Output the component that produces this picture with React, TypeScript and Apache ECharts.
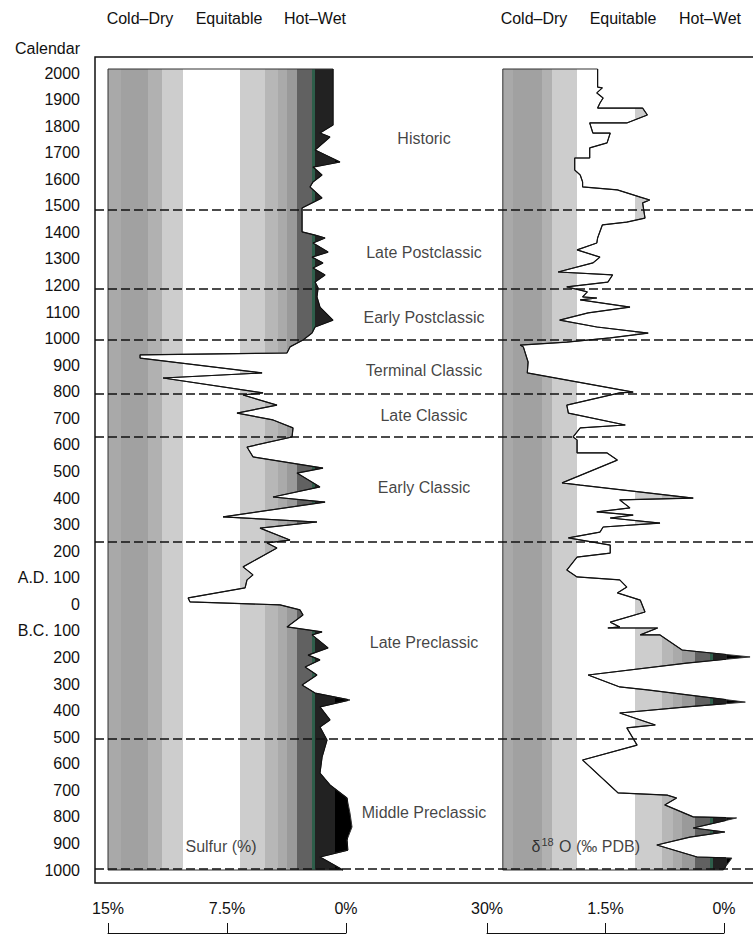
import React, { useEffect, useRef } from "react";
import * as echarts from "echarts";

const FONT = '"Liberation Sans", Arial, Helvetica, sans-serif';
const INK = "#111111";

// Calendar axis (A.D. positive, B.C. negative)
const YEAR_MIN = -1000;
const YEAR_MAX = 2000;
const YEAR_STEP = 100;

// Period boundaries (dashed lines) and period names at their mid-years
const PERIOD_BOUNDARIES = [1485, 1187, 995, 792, 630, 235, -507, -996];
const PERIOD_NAMES = [
  "Historic",
  "Late Postclassic",
  "Early Postclassic",
  "Terminal Classic",
  "Late Classic",
  "Early Classic",
  "Late Preclassic",
  "Middle Preclassic",
];
const PERIOD_LABEL_YEARS = [1755, 1326, 1078, 882, 709, 438, -142, -785];

// Header texts above each panel
const CLIMATE_HEADERS = ["Cold\u2013Dry", "Equitable", "Hot\u2013Wet"];

// Sulfur (%) record: [year, percent]
const SULFUR: [number, number][] = [
  [2015, 0.82], [1804, 0.82], [1793, 1.13], [1774, 1.64], [1759, 1.01], [1710, 1.95],
  [1665, 0.38], [1646, 2.08], [1616, 1.51], [1590, 2.08], [1571, 2.27], [1530, 1.51],
  [1492, 2.77], [1402, 2.77], [1390, 1.95], [1379, 1.32], [1360, 2.08], [1326, 1.13],
  [1307, 2.14], [1285, 1.45], [1266, 2.08], [1240, 1.32], [1213, 1.95], [1191, 1.76],
  [1157, 1.83], [1119, 1.64], [1070, 0.82], [1044, 1.95], [1021, 2.14], [995, 2.71],
  [969, 3.53], [946, 3.72], [939, 12.98], [927, 12.98], [871, 5.29], [852, 11.53],
  [796, 5.23], [788, 6.49], [750, 4.35], [720, 6.87], [694, 4.6], [664, 3.34],
  [630, 3.4], [592, 6.24], [555, 5.86], [513, 1.45], [494, 3.09], [442, 1.64],
  [404, 4.6], [385, 1.32], [329, 7.75], [310, 1.83], [287, 5.42], [242, 3.53],
  [231, 4.98], [212, 4.35], [141, 6.49], [111, 5.86], [92, 6.24], [62, 6.36],
  [24, 9.95], [9, 9.83], [-2, 4.16], [-21, 2.9], [-40, 2.71], [-85, 3.72],
  [-104, 1.51], [-115, 2.14], [-164, 1.13], [-191, 2.39], [-209, 1.64], [-236, 2.58],
  [-266, 1.83], [-304, 2.77], [-334, 1.95], [-360, -0.25], [-386, 1.64], [-435, 1.01],
  [-462, 1.64], [-511, 1.2], [-575, 1.51], [-635, 1.64], [-680, 1.01], [-729, -0.06],
  [-785, -0.25], [-838, -0.38], [-887, -0.06], [-925, -0.13], [-951, 1.64], [-1000, 0.19],
];

// Oxygen isotope record: [year, scale value]
const DELTA18O: [number, number][] = [
  [2015, 1.6], [1947, 1.6], [1944, 1.54], [1925, 1.61], [1906, 1.53], [1887, 1.57],
  [1868, 1.6], [1868, 1.03], [1842, 0.97], [1812, 1.23], [1812, 1.7], [1774, 1.66],
  [1774, 1.44], [1737, 1.48], [1718, 1.7], [1680, 1.7], [1680, 1.89], [1635, 1.89],
  [1616, 1.82], [1590, 1.79], [1571, 1.79], [1560, 1.35], [1533, 1.06], [1522, 0.94],
  [1511, 1.03], [1454, 1.0], [1439, 1.23], [1428, 1.54], [1379, 1.6], [1360, 1.61],
  [1334, 1.86], [1307, 1.57], [1285, 1.66], [1251, 2.1], [1240, 1.41], [1213, 1.47],
  [1195, 1.99], [1183, 1.82], [1176, 1.73], [1157, 1.79], [1153, 1.61], [1146, 1.82],
  [1119, 1.19], [1097, 1.72], [1070, 2.08], [1044, 1.61], [1021, 0.96], [1003, 1.44],
  [987, 1.99], [976, 2.58], [969, 2.54], [912, 2.48], [871, 2.49], [799, 1.15],
  [796, 1.32], [750, 1.99], [720, 1.97], [675, 1.25], [664, 1.82], [630, 1.91],
  [619, 1.86], [570, 1.86], [570, 1.48], [543, 1.35], [457, 2.05], [449, 1.82],
  [400, 0.39], [393, 1.32], [363, 1.19], [348, 1.61], [336, 1.15], [325, 1.44],
  [306, 0.81], [291, 1.53], [272, 1.57], [250, 1.97], [223, 1.44], [193, 1.44],
  [178, 1.86], [129, 1.99], [103, 1.86], [92, 1.32], [65, 1.23], [43, 1.35],
  [16, 1.06], [-29, 1.0], [-67, 1.44], [-85, 1.32], [-89, 1.47], [-89, 0.84],
  [-115, 1.06], [-115, 0.81], [-172, 0.53], [-198, -0.33], [-221, 0.47], [-266, 1.72],
  [-311, 1.32], [-322, 0.97], [-368, -0.27], [-386, 0.47], [-409, 1.32], [-454, 0.87],
  [-465, 1.23], [-530, 1.1], [-586, 1.79], [-710, 1.34], [-718, 0.72], [-729, 0.6],
  [-755, 0.75], [-800, 0.39], [-804, -0.16], [-842, 0.39], [-857, -0.01], [-876, 0.43],
  [-906, 0.85], [-951, 0.34], [-955, -0.1], [-1000, 0.01],
];

// Bottom scales
const SULFUR_MAX = 15;
const SULFUR_STEP = 7.5;
const DELTA_MAX = 3;
const DELTA_STEP = 1.5;
const DELTA_TICK_LABELS = ["0%", "1.5%", "30%"];

// Climate band colours (from, to, colour) in each panel's scale units
const BAND_COLORS = [
  "#a9a9a9", "#a1a1a1", "#b1b1b1", "#cdcdcd", "#ffffff", "#cdcdcd",
  "#b7b7b7", "#aaaaaa", "#9a9a9a", "#616161", "#2e5e4a", "#222222", "#000000",
];
const SULFUR_BAND_EDGES = [15, 14.18, 12.47, 11.59, 10.27, 6.68, 5.1, 4.28, 3.72, 3.09, 2.14, 1.95, 0.69, -2];
const DELTA_BAND_EDGES = [2.8, 2.67, 2.3, 2.18, 1.86, 1.13, 0.785, 0.646, 0.53, 0.367, 0.177, 0.139, -0.04, -0.5];

function yearLabel(v: number): string {
  if (v === 100) return "A.D. 100";
  if (v === -100) return "B.C. 100";
  return String(Math.abs(v));
}

function areaSeries(axisIndex: number, record: [number, number][], edges: number[]) {
  const left = edges[0];
  const topYear = record[0][0];
  const bottomYear = record[record.length - 1][0];
  return {
    type: "custom",
    coordinateSystem: "cartesian2d",
    xAxisIndex: axisIndex,
    yAxisIndex: axisIndex,
    clip: false,
    silent: true,
    z: 2,
    data: [[left, topYear]],
    renderItem: (_params: any, api: any) => {
      const pts: number[][] = [api.coord([left, topYear])];
      for (const [yr, v] of record) pts.push(api.coord([v, yr]));
      pts.push(api.coord([left, bottomYear]));
      const xa = api.coord([edges[0], 0])[0];
      const xb = api.coord([edges[edges.length - 1], 0])[0];
      const stops: any[] = [];
      for (let i = 0; i < edges.length - 1; i++) {
        const s = (api.coord([edges[i], 0])[0] - xa) / (xb - xa);
        const e = (api.coord([edges[i + 1], 0])[0] - xa) / (xb - xa);
        stops.push({ offset: Math.max(0, Math.min(1, s)), color: BAND_COLORS[i] });
        stops.push({ offset: Math.max(0, Math.min(1, e)), color: BAND_COLORS[i] });
      }
      return {
        type: "polygon",
        shape: { points: pts },
        style: {
          fill: { type: "linear", x: xa, y: 0, x2: xb, y2: 0, colorStops: stops, global: true },
          stroke: "#333",
          lineWidth: 1,
        },
      };
    },
  };
}

function curveSeries(axisIndex: number, record: [number, number][]) {
  return {
    type: "line",
    xAxisIndex: axisIndex,
    yAxisIndex: axisIndex,
    data: record.map(([yr, v]) => [v, yr]),
    showSymbol: false,
    symbol: "none",
    clip: false,
    silent: true,
    z: 3,
    lineStyle: { color: "#111", width: 1.2 },
  };
}

const textStyle = { fontFamily: FONT, fontSize: 16, color: INK };

function bottomAxis(gi: number, max: number, step: number, formatter: (v: number) => string) {
  return {
    type: "value",
    gridIndex: gi,
    min: 0,
    max,
    interval: step,
    inverse: true,
    position: "bottom",
    offset: 63,
    axisLine: { show: true, onZero: false, lineStyle: { color: "#111", width: 1 } },
    axisTick: { show: true, inside: true, length: 10, lineStyle: { color: "#111" } },
    axisLabel: { inside: true, margin: 17, formatter, ...textStyle },
    splitLine: { show: false },
  };
}

export default function App() {
  const ref = useRef<HTMLDivElement>(null);
  useEffect(() => {
    if (!ref.current) return;
    const chart = echarts.init(ref.current, undefined, { renderer: "svg" });

    const gridTop = 73;
    const gridHeight = 797;
    const hiddenY = (gi: number) => ({
      type: "value",
      gridIndex: gi,
      min: YEAR_MIN,
      max: YEAR_MAX,
      interval: YEAR_STEP,
      show: false,
    });

    const headerTexts: any[] = [];
    const headerX = [
      [140, 229, 315],
      [534, 623, 710],
    ];
    headerX.forEach((xs) =>
      xs.forEach((x, i) =>
        headerTexts.push({
          type: "text",
          x,
          y: 18,
          z: 20,
          style: {
            text: CLIMATE_HEADERS[i],
            textAlign: "center",
            textVerticalAlign: "middle",
            align: "center",
            verticalAlign: "middle",
            fill: INK,
            fontSize: 16,
            fontFamily: FONT,
          },
        })
      )
    );

    chart.setOption({
      animation: false,
      backgroundColor: "#ffffff",
      grid: [
        { left: 95, top: gridTop, width: 658, height: gridHeight },
        { left: 108, top: gridTop, width: 238, height: gridHeight },
        { left: 487, top: gridTop, width: 237, height: gridHeight },
      ],
      xAxis: [
        { type: "value", gridIndex: 0, min: 0, max: 100, show: false },
        bottomAxis(1, SULFUR_MAX, SULFUR_STEP, (v: number) => `${v}%`),
        bottomAxis(2, DELTA_MAX, DELTA_STEP, (v: number) => DELTA_TICK_LABELS[Math.round(v / DELTA_STEP)] ?? ""),
      ],
      yAxis: [
        {
          type: "value",
          gridIndex: 0,
          min: YEAR_MIN,
          max: YEAR_MAX,
          interval: YEAR_STEP,
          axisLine: { show: false },
          axisTick: { show: false },
          splitLine: { show: false },
          axisLabel: { margin: 15, formatter: yearLabel, ...textStyle },
        },
        hiddenY(1),
        hiddenY(2),
      ],
      graphic: [
        {
          type: "rect",
          z: 20,
          shape: { x: 95, y: 57, width: 720, height: 826 },
          style: { fill: "transparent", stroke: "#111", lineWidth: 1.5 },
        },
        {
          type: "text",
          x: 80,
          y: 48,
          z: 20,
          style: {
            text: "Calendar",
            textAlign: "right",
            textVerticalAlign: "middle",
            align: "right",
            verticalAlign: "middle",
            fill: INK,
            fontSize: 16,
            fontFamily: FONT,
          },
        },
        ...headerTexts,
      ],
      series: [
        areaSeries(1, SULFUR, SULFUR_BAND_EDGES),
        curveSeries(1, SULFUR),
        areaSeries(2, DELTA18O, DELTA_BAND_EDGES),
        curveSeries(2, DELTA18O),
        {
          type: "scatter",
          xAxisIndex: 0,
          yAxisIndex: 0,
          symbolSize: 0,
          clip: false,
          silent: true,
          z: 10,
          data: PERIOD_NAMES.map((name, i) => ({ name, value: [50, PERIOD_LABEL_YEARS[i]] })),
          label: { show: true, position: "inside", formatter: "{b}", ...textStyle },
          markLine: {
            silent: true,
            symbol: ["none", "none"],
            label: { show: false },
            lineStyle: { type: [9, 4], color: "#111", width: 1.5 },
            data: PERIOD_BOUNDARIES.map((y) => ({ yAxis: y })),
          },
        },
        {
          type: "scatter",
          xAxisIndex: 1,
          yAxisIndex: 1,
          symbolSize: 0,
          clip: false,
          silent: true,
          z: 10,
          data: [{ name: "Sulfur (%)", value: [7.875, -913] }],
          label: { show: true, position: "inside", formatter: "{b}", ...textStyle },
        },
        {
          type: "scatter",
          xAxisIndex: 2,
          yAxisIndex: 2,
          symbolSize: 0,
          clip: false,
          silent: true,
          z: 10,
          data: [{ name: "d18O", value: [1.75, -913] }],
          label: {
            show: true,
            position: "inside",
            formatter: "{a|\u03b4}{s|18}{a| O (\u2030 PDB)}",
            rich: {
              a: { ...textStyle },
              s: { fontFamily: FONT, fontSize: 11, color: INK, padding: [0, 1, 9, 1] },
            },
          },
        },
      ],
    });
    return () => chart.dispose();
  }, []);
  return (
    <div
      ref={ref}
      style={{ position: "fixed", left: 0, top: 0, width: 753, height: 934, background: "#fff" }}
    />
  );
}
